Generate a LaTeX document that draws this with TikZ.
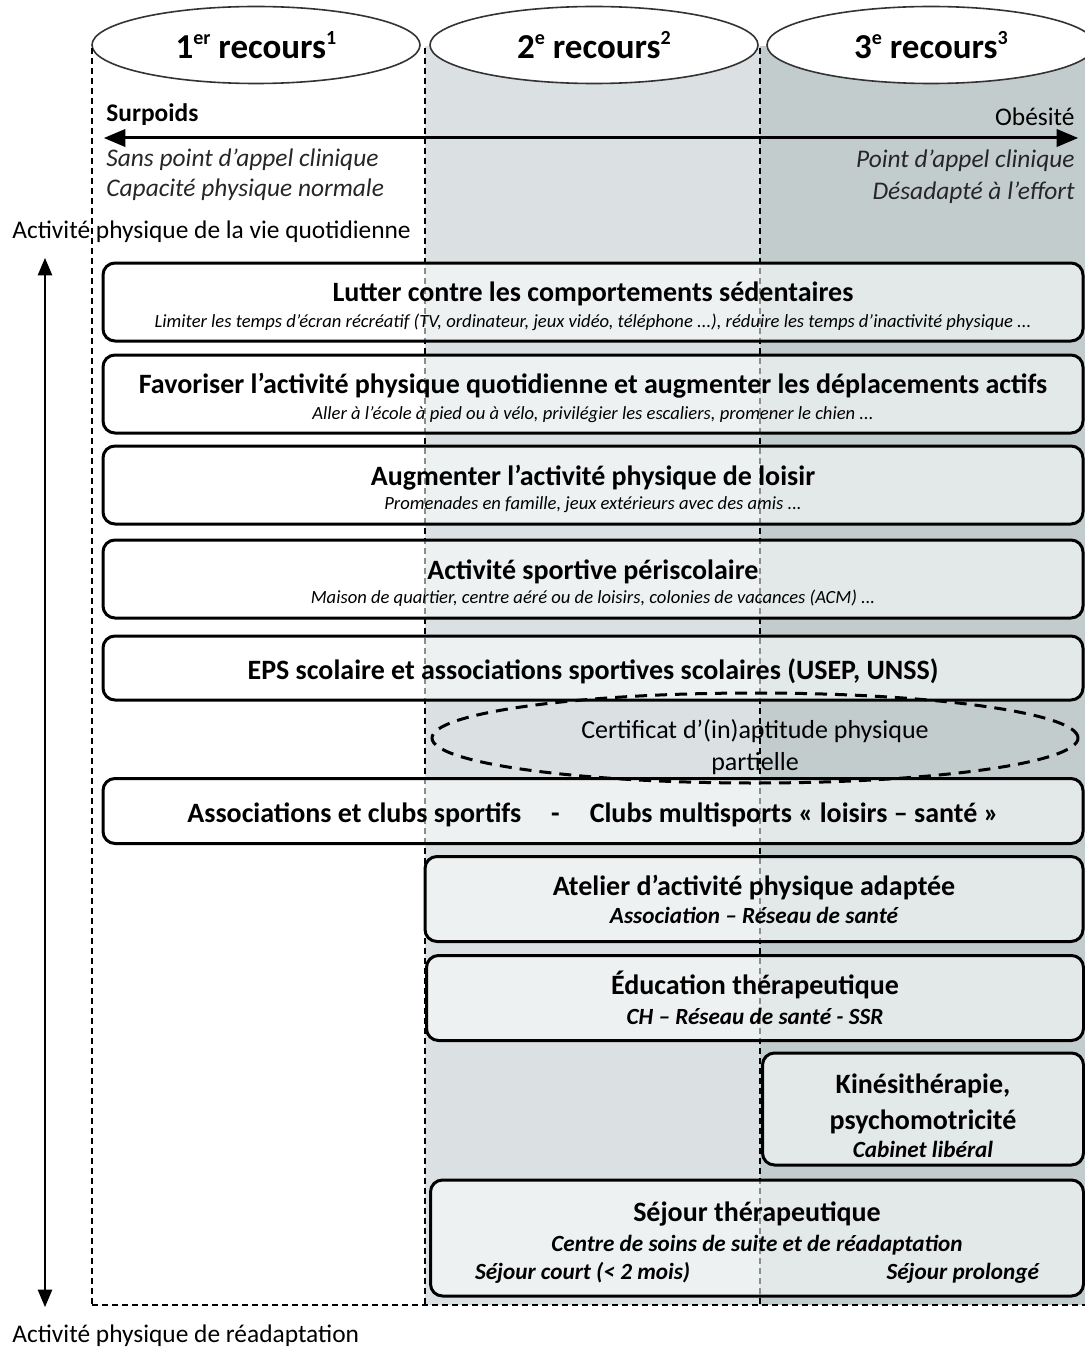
\documentclass[tikz,border=0pt]{standalone}
\usepackage{fontspec}
\setmainfont{Carlito}
\usetikzlibrary{arrows,shapes.geometric,positioning}

\definecolor{gris1}{HTML}{DBE1E2}
\definecolor{gris2}{HTML}{C3CCCC}

\newcommand{\titre}[1]{{\fontsize{14}{17}\selectfont\bfseries #1}}
\newcommand{\detail}[1]{{\fontsize{9.3}{11}\selectfont\itshape #1}}
\newcommand{\lieu}[1]{{\fontsize{11.6}{14}\selectfont\bfseries\itshape #1}}
\newcommand{\exposant}[1]{\raisebox{0.8ex}{\fontsize{10}{12}\selectfont #1}}
\newcommand{\cale}[1][14pt]{\rule{0pt}{#1}}

\begin{document}
\begin{tikzpicture}[x=0.5pt, y=-0.5pt,
recours/.style={
	ellipse, draw=black!80, line width=0.8pt, fill=white,
	minimum width=164pt, minimum height=38.5pt, inner sep=0pt,
	font=\fontsize{17.5}{20}\selectfont\bfseries
},
colonne/.style={line width=0.6pt, dash pattern=on 3pt off 2pt},
action/.style={
	draw, line width=1.5pt, rounded corners=6pt,
	fill=white, fill opacity=0.55, text opacity=1,
	align=center, inner sep=0pt
},
large/.style={action, minimum width=490pt, minimum height=39pt},
legende/.style={inner sep=0pt, font=\fontsize{12.7}{15}\selectfont},
profil/.style={inner sep=0pt, font=\fontsize{12.7}{15}\selectfont\itshape, text=black!85},
certificat/.style={
	ellipse, draw, line width=1.5pt, dash pattern=on 6pt off 4pt,
	minimum width=323pt, minimum height=45pt, inner sep=0pt
}
]
\useasboundingbox (0,0) rectangle (1085,1348);
% colonnes
\fill[gris1] (425,46) rectangle (760,1305);
\fill[gris2] (760,46) rectangle (1085,1305);
\foreach \x/\n/\s/\nom in {256/1/er/premier, 594/2/e/second, 931/3/e/troisieme}
	\node[recours] (\nom) at (\x,45) {\n\exposant{\s} recours\exposant{\n}};
\foreach \x in {92,425,760}
	\draw[colonne] (\x,48) -- (\x,1305);
\draw[colonne] (92,1305) -- (1085,1305);

% surpoids - obesite
\node[legende, anchor=west, font=\fontsize{12.7}{15}\selectfont\bfseries] (surpoids) at (106,115) {Surpoids};
\node[legende, anchor=east] (obesite) at (1075,117) {Obésité};
\coordinate (g) at (104,138);
\coordinate (d) at (1078,138);
\draw[triangle 45-triangle 45, line width=1.5pt] (g) -- (d);
\node[profil, anchor=west] (sans) at (106,160) {Sans point d’appel clinique};
\node[profil, anchor=west] (capacite) at (106,190) {Capacité physique normale};
\node[profil, anchor=east] (point) at (1075,161) {Point d’appel clinique};
\node[profil, anchor=east] (desadapte) at (1075,193) {Désadapté à l’effort};

% axe vertical
\node[legende, anchor=west] (quotidien) at (12,232) {Activité physique de la vie quotidienne};
\node[legende, anchor=west] (readaptation) at (12,1336) {Activité physique de réadaptation};
\coordinate (haut) at (45,258);
\coordinate (bas) at (45,1307);
\draw[triangle 45-triangle 45, line width=1pt] (haut) -- (bas);

% actions
\node[large] (lutter) at (593,302) {\cale\titre{Lutter contre les comportements sédentaires}\\[1pt]
	\detail{Limiter les temps d’écran récréatif (TV, ordinateur, jeux vidéo, téléphone ...), réduire les temps d’inactivité physique ...}};
\node[large] (favoriser) at (593,394) {\cale\titre{Favoriser l’activité physique quotidienne et augmenter les déplacements actifs}\\[1pt]
	\detail{Aller à l’école à pied ou à vélo, privilégier les escaliers, promener le chien ...}};
\node[large] (loisir) at (593,485) {\cale\titre{Augmenter l’activité physique de loisir}\\
	\detail{Promenades en famille, jeux extérieurs avec des amis ...}};
\node[large] (periscolaire) at (593,579) {\cale\titre{Activité sportive périscolaire}\\
	\detail{Maison de quartier, centre aéré ou de loisirs, colonies de vacances (ACM) ...}};
\node[action, minimum width=490pt, minimum height=32pt] (eps) at (593,668)
	{\cale\titre{EPS scolaire et associations sportives scolaires (USEP, UNSS)}};
\node[action, minimum width=490pt, minimum height=32.5pt] (clubs) at (593,811)
	{\cale\titre{Associations et clubs sportifs\hspace{15pt}-\hspace{15pt}Clubs multisports « loisirs – santé »}};
\node[certificat] (aptitude) at (755,738) {};
\node[align=center, font=\fontsize{13}{16}\selectfont] (aptitude-texte) at (755,747)
	{Certificat d’(in)aptitude physique\\ partielle};
\node[action, minimum width=329pt, minimum height=42.5pt] (atelier) at (754,899)
	{\titre{Atelier d’activité physique adaptée}\\[2pt] \lieu{Association – Réseau de santé}};
\node[action, minimum width=328.5pt, minimum height=42.5pt] (education) at (755,998)
	{\titre{Éducation thérapeutique}\\[3pt] \lieu{CH – Réseau de santé - SSR}};
\node[action, minimum width=160.5pt, minimum height=56pt] (kine) at (923,1109)
	{\cale[17pt]\titre{Kinésithérapie,}\\[5pt] \titre{psychomotricité}\\[2pt] \lieu{Cabinet libéral}};
\node[action, minimum width=326.5pt, minimum height=58pt] (sejour) at (757,1238)
	{\cale\titre{Séjour thérapeutique}\\[3pt] \lieu{Centre de soins de suite et de réadaptation}\\[2pt]
	\lieu{\makebox[282pt]{Séjour court (< 2 mois)\hfill Séjour prolongé}}};
\end{tikzpicture}
\end{document}
